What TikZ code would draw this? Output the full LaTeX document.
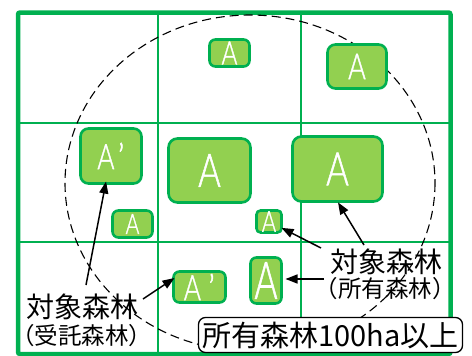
\documentclass[tikz,border=0pt]{standalone}
\usepackage{fontspec}
\usepackage{graphicx}
\setmainfont{Noto Sans CJK JP}
\newfontfamily\afont{Lato Light}[FakeBold=1.3]
\usetikzlibrary{arrows.meta,calc}
\definecolor{fgreen}{HTML}{00B050}
\definecolor{lgreen}{HTML}{92D050}
\tikzset{
  abox/.style={draw=fgreen, fill=lgreen, line width=2.6pt, rounded corners=6pt,
    text=white, inner sep=0pt, outer sep=0pt, font=\afont},
  grid/.style={draw=fgreen, line width=1.8pt},
  frame/.style={draw=fgreen, line width=4.5pt, rounded corners=2pt},
  arr/.style={-{Triangle[length=12pt,width=9pt]}, line width=1.5pt, black},
  lbl/.style={inner sep=0pt, text=black},
}
\newcommand{\fs}[1]{\fontsize{#1}{#1}\selectfont}
\newcommand{\nA}[2][0.75]{\scalebox{#1}[1]{\fs{#2}A}}
\begin{document}
\begin{tikzpicture}[x=1pt,y=-1pt]
\useasboundingbox (0,0) rectangle (472,356);
% grid
\draw[grid] (158,12.5) -- (158,354);
\draw[grid] (301,12.5) -- (301,354);
\draw[grid] (18,123) -- (450.5,123);
\draw[grid] (18,242) -- (450.5,242);
\draw[frame] (18,12.5) rectangle (450.5,354);
% dashed ellipse
\draw[black, line width=1.1pt, dash pattern=on 9pt off 5pt] (250,183) ellipse [x radius=185, y radius=168];
% boxes
\node[abox, minimum width=40pt, minimum height=27pt] (b1) at (229.5,53) {\nA{32}};
\node[abox, minimum width=59pt, minimum height=44pt, rounded corners=8pt] (b2) at (357,66.5) {\nA{36}};
\node[abox, minimum width=61pt, minimum height=55pt, rounded corners=8pt] (b3) at (111,156) {\nA{35}\kern3pt{\fs{35}’}};
\node[abox, minimum width=82pt, minimum height=64pt, rounded corners=9pt] (b4) at (209.5,170.5) {\nA{46}};
\node[abox, minimum width=90pt, minimum height=65pt, rounded corners=9pt] (b5) at (337.5,169) {\nA{46}};
\node[abox, minimum width=40pt, minimum height=27pt] (b6) at (132.5,224) {\nA{28}};
\node[abox, minimum width=25pt, minimum height=22pt, rounded corners=4pt] (b7) at (269,221.5) {\nA{29}};
\node[abox, minimum width=52pt, minimum height=31pt] (b8) at (199.5,287) {\nA{35}\kern7pt{\fs{35}’}};
\node[abox, minimum width=31pt, minimum height=46pt] (b9) at (266,280.5) {\nA[0.68]{52}};
% labels
\node[lbl] (lblL) at (83,307) {\fs{28}対象森林};
\node[lbl] (lblLs) at (82,336) {\fs{23.5}（受託森林）};
\node[lbl] (lblR) at (386,262) {\fs{28}対象森林};
\node[lbl] (lblRs) at (385,289) {\fs{23.5}（所有森林）};
% arrows
\coordinate (t1) at (86,285);
\coordinate (t2) at (143,299);
\coordinate (t3) at (364,245);
\coordinate (t4) at (321,248);
\coordinate (t5) at (324,279);
\draw[arr, shorten >=-2pt] (t1) -- (b3);
\draw[arr] (t2) -- ([yshift=9pt,xshift=1pt]b8.west);
\draw[arr, shorten >=1pt] (t3) -- (b5.south);
\draw[arr] (t4) -- (b7);
\draw[arr, shorten >=4pt] (t5) -- (t5 -| b9.east);
% bottom label box
\node[draw=black, fill=white, line width=1.3pt, rounded corners=7pt, inner sep=0pt,
  minimum width=264pt, minimum height=35pt] (cond) at (330.5,335) {\fs{29}所有森林100ha以上};
\end{tikzpicture}
\end{document}
